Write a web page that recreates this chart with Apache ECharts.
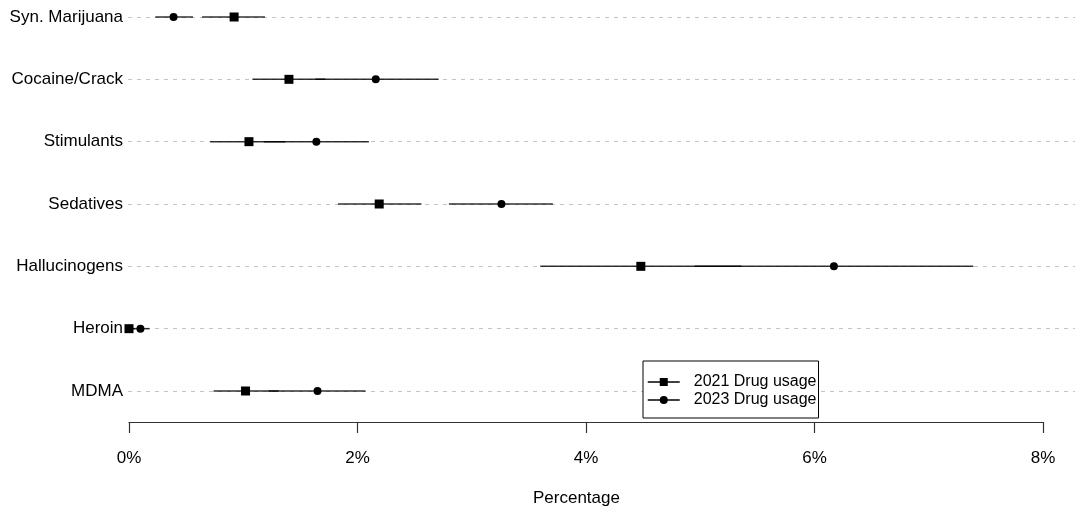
<!DOCTYPE html>
<html>
<head>
<meta charset="utf-8">
<script src="https://cdn.jsdelivr.net/npm/echarts@6/dist/echarts.min.js"></script>
<style>html,body{margin:0;padding:0;background:#fff}#c{width:1075px;height:512px}</style>
</head>
<body>
<div id="c"></div>
<script>
const categories = ['Syn. Marijuana','Cocaine/Crack','Stimulants','Sedatives','Hallucinogens','Heroin','MDMA'];
const xTicks = [0, 2, 4, 6, 8];
const usage2021 = [0.92, 1.40, 1.05, 2.19, 4.48, 0.00, 1.02];
const low2021   = [0.64, 1.08, 0.71, 1.83, 3.60, 0.00, 0.74];
const high2021  = [1.19, 1.72, 1.37, 2.56, 5.36, 0.05, 1.31];
const usage2023 = [0.39, 2.16, 1.64, 3.26, 6.17, 0.10, 1.65];
const low2023   = [0.23, 1.63, 1.18, 2.80, 4.95, 0.02, 1.22];
const high2023  = [0.56, 2.71, 2.10, 3.71, 7.39, 0.18, 2.07];

const FONT = 'Liberation Sans, Arial, Helvetica, sans-serif';
const chart = echarts.init(document.getElementById('c'), null, {renderer:'canvas'});

function ciSeries(lo, hi) {
  return {
    type: 'custom', xAxisIndex: 1, yAxisIndex: 1, z: 2, silent: true,
    data: categories.map((c, i) => [lo[i], hi[i], i]),
    encode: {x: [0, 1], y: 2},
    renderItem: (params, api) => {
      const a = api.coord([api.value(0), api.value(2)]);
      const b = api.coord([api.value(1), api.value(2)]);
      return {type: 'line', shape: {x1: a[0], y1: a[1], x2: b[0], y2: b[1]},
        style: {stroke: '#000', lineWidth: 1.5, opacity: 0.8}};
    }
  };
}
function pointSeries(name, vals, symbol, size) {
  return {
    name, type: 'line', xAxisIndex: 1, yAxisIndex: 1, z: 5,
    data: vals.map((v, i) => [v, i]),
    symbol, symbolSize: size, showSymbol: true,
    lineStyle: {opacity: 0, width: 0},
    itemStyle: {color: '#000'},
    emphasis: {disabled: true}, silent: true
  };
}

chart.setOption({
  animation: false,
  textStyle: {fontFamily: FONT},
  title: {text: 'Percentage', left: 533, top: 490, padding: 0,
    textStyle: {fontSize: 17, fontWeight: 'normal', color: '#000', fontFamily: FONT}},
  grid: [
    {left: 128, right: 0, top: 17, bottom: 121},
    {left: 129, width: 914, top: 17, bottom: 121}
  ],
  legend: {
    data: ['2021 Drug usage', '2023 Drug usage'],
    orient: 'vertical', left: 643, top: 361,
    padding: [13, 2, 10, 4],
    backgroundColor: '#fff', borderColor: '#000', borderWidth: 1,
    itemWidth: 32, itemHeight: 10, itemGap: 2,
    lineStyle: {width: 1.5, color: '#000', opacity: 1},
    textStyle: {fontSize: 16, color: '#000', lineHeight: 16, padding: [0, 0, 0, 9], fontFamily: FONT}
  },
  xAxis: [
    {gridIndex: 0, type: 'value', min: 0, max: 1, show: false},
    {gridIndex: 1, type: 'value', position: 'bottom', min: 0, max: 8, interval: 2, offset: 31,
      axisLine: {show: true, onZero: false, lineStyle: {color: '#333', width: 1.2}},
      axisTick: {show: true, length: 11, lineStyle: {color: '#333', width: 1.2}},
      splitLine: {show: false},
      axisLabel: {formatter: v => xTicks.includes(v) ? v + '%' : '', fontSize: 17, color: '#000', margin: 28, fontFamily: FONT}}
  ],
  yAxis: [
    {gridIndex: 0, type: 'value', min: 0, max: categories.length - 1, interval: 1, inverse: true,
      axisLine: {show: false}, axisTick: {show: false},
      splitLine: {show: true, lineStyle: {color: '#c4c4c4', width: 1, type: [4, 5]}},
      axisLabel: {formatter: v => categories[v] || '', fontSize: 17, color: '#000', margin: 5, fontFamily: FONT}},
    {gridIndex: 1, type: 'value', min: 0, max: categories.length - 1, interval: 1, inverse: true, show: false}
  ],
  series: [
    ciSeries(low2021, high2021),
    ciSeries(low2023, high2023),
    pointSeries('2021 Drug usage', usage2021, 'rect', 9),
    pointSeries('2023 Drug usage', usage2023, 'circle', 8)
  ]
});
</script>
</body>
</html>
